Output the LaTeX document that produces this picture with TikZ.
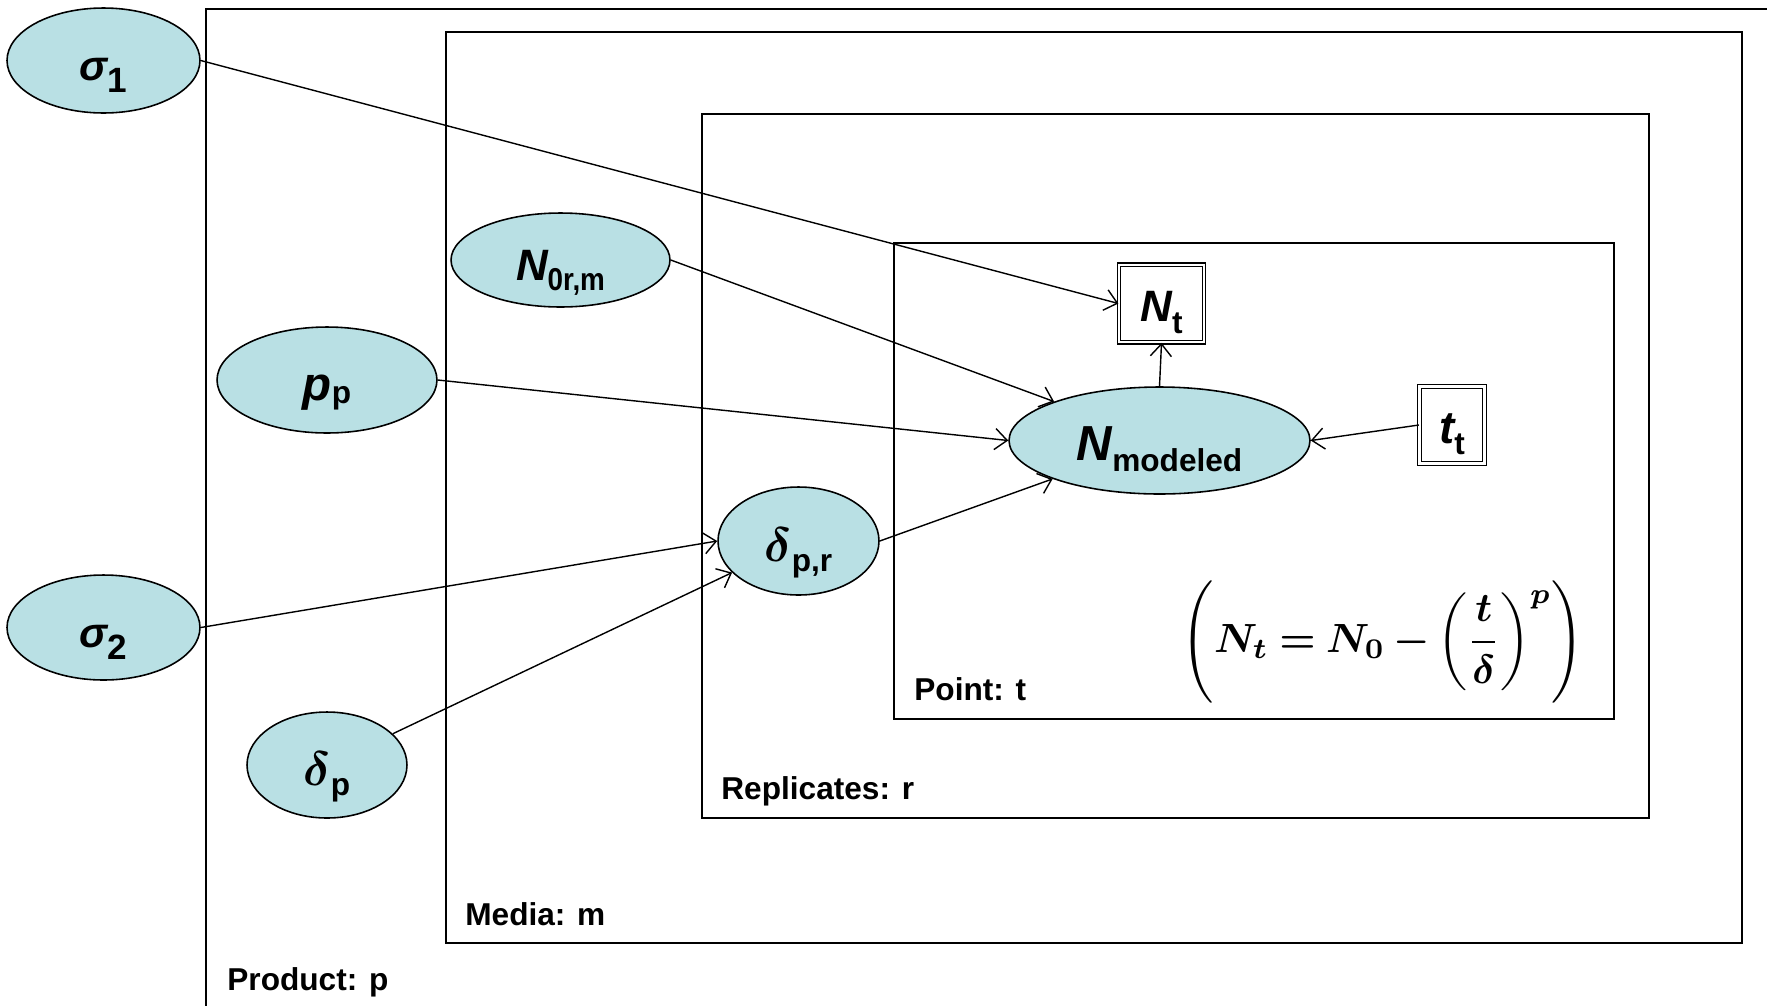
\documentclass[tikz,border=0pt]{standalone}
\usepackage{amsmath}
\usepackage[no-math]{fontspec}
\setmainfont{Liberation Sans}
\usetikzlibrary{shapes.geometric,arrows.meta}

\definecolor{nodefill}{RGB}{185,224,228}

% text sizes for the variable names
\newcommand{\subsz}{\fontsize{18}{20}\selectfont}
\newcommand{\lowsub}[2][4pt]{\raisebox{-#1}{\subsz\bfseries #2}}
\newcommand{\bvar}[2][24]{{\fontsize{#1}{#1}\selectfont\bfseries\itshape #2}}
\newcommand{\dvar}{\scalebox{2.75}{\boldmath$\delta$}}

\tikzset{
  rv/.style={ellipse, draw, fill=nodefill, line width=0.9pt, inner sep=0pt,
             text height=22.8pt, text depth=0pt},
  obs/.style={rectangle, draw, double, double distance=1.3pt, line width=0.7pt,
              fill=white, inner sep=0pt, text height=21pt, text depth=0pt},
  plate/.style={draw, line width=1.1pt},
  platelabel/.style={anchor=base west, inner sep=0pt, font=\subsz\bfseries},
  edge/.style={-{Straight Barb[length=7pt,width=12pt]}, line width=0.8pt},
}

\begin{document}
\begin{tikzpicture}[x=0.02cm, y=-0.02cm]
\useasboundingbox (0,0) rectangle (1767,1005);
\clip (0,0) rectangle (1767,1005);

% plates
\draw[plate] (206,1020) -- (206,9) -- (1780,9);
\draw[plate] (446,32) rectangle (1742,943);
\draw[plate] (702,114) rectangle (1649,818);
\draw[plate] (894,243) rectangle (1614,719);

\node[platelabel] (lblP) at (227,990) {Product: p};
\node[platelabel] (lblM) at (465,925) {Media: m};
\node[platelabel] (lblR) at (721,799) {Replicates: r};
\node[platelabel] (lblT) at (914,700) {Point: t};

% stochastic nodes
\node[rv, minimum width=3.86cm, minimum height=2.1cm] (s1) at (103.5,60.5)
  {\bvar{σ}\lowsub[7pt]{\fontsize{20}{20}\selectfont 1}};
\node[rv, minimum width=3.86cm, minimum height=2.1cm] (s2) at (103.5,627.5)
  {\bvar{σ}\lowsub[7pt]{\fontsize{20}{20}\selectfont 2}};
\node[rv, minimum width=4.4cm, minimum height=2.12cm] (pp) at (327,380)
  {\bvar[27]{p}\lowsub[2pt]{p}};
\node[rv, minimum width=4.38cm, minimum height=1.88cm] (N0) at (560.5,260)
  {\bvar[25]{N}\lowsub[6pt]{\scalebox{0.88}[1]{0r,m}}};
\node[rv, minimum width=3.2cm, minimum height=2.12cm] (dp) at (327,765)
  {\dvar\lowsub[6pt]{p}};
\node[rv, minimum width=3.22cm, minimum height=2.16cm] (dpr) at (798.5,541)
  {\dvar\lowsub[6pt]{p,r}};
\node[rv, minimum width=6.02cm, minimum height=2.14cm] (Nm) at (1159.5,440.5)
  {\bvar[28]{N}\lowsub[6pt]{modeled}};

% observed nodes
\node[obs, minimum width=1.7cm, minimum height=1.55cm] (Nt) at (1161.5,303.5)
  {\bvar[25]{N}\lowsub[6.5pt]{t}};
\node[obs, minimum width=1.3cm, minimum height=1.54cm] (tt) at (1452,425)
  {\bvar[26]{t}\lowsub[6pt]{t}};

% model equation
\node[inner sep=0pt] (eq) at (1383,642)
  {\scalebox{2.32}{\thickmuskip=4mu\medmuskip=3mu\boldmath$\displaystyle\Biggl(N_t = N_0 - \biggl(\frac{t}{\delta}\biggr)^{p}\Biggr)$}};

% dependencies
\draw[edge] (s1.east) -- (Nt.west);
\draw[edge] (N0.east) -- (Nm);
\draw[edge] (pp.east) -- (Nm.west);
\draw[edge] (dpr.east) -- (Nm);
\draw[edge] (Nm.north) -- (Nt.south);
\draw[edge] (tt.west) -- (Nm.east);
\draw[edge] (s2.east) -- (dpr.west);
\draw[edge] (dp) -- (dpr);
\end{tikzpicture}
\end{document}
